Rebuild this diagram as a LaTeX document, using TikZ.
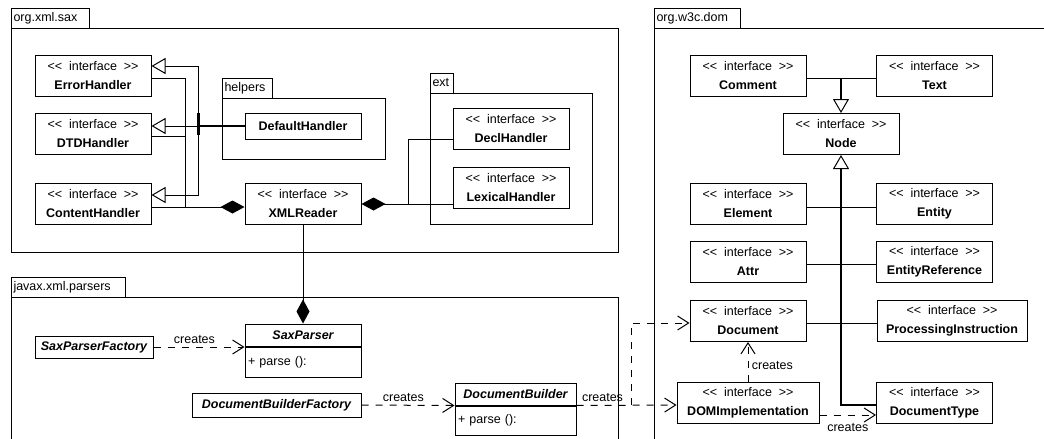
\documentclass[tikz,border=0pt]{standalone}
\usepackage{fontspec}
\setmainfont{Liberation Sans}
\usetikzlibrary{arrows.meta}

\newcommand{\stereo}{<\kern0pt<\hspace{0.55em}interface\hspace{0.55em}>\kern0pt>}

\begin{document}
\begin{tikzpicture}[
    x = 1pt, y = -1pt,
    line width = 1pt,
    font = \fontsize{12.5}{19}\selectfont,
    box/.style = {draw,
      inner sep = 0pt, align = center},
    iface/.style = {box,
      minimum width = 116pt, minimum height = 41pt},
    factory/.style = {box,
      font = \fontsize{12.5}{15}\selectfont\bfseries\itshape},
    classtitle/.style = {box, minimum height = 22pt,
      font = \fontsize{12.5}{15}\selectfont\bfseries\itshape},
    classbody/.style = {box, anchor = north, minimum height = 30pt,
      align = left, inner xsep = 3pt},
    pkglabel/.style = {anchor = west, inner sep = 1pt},
    heavy/.style = {line width = 2pt},
    inherit/.style = {-{Triangle[open, length = 14pt, width = 16pt, line width = 1pt]}},
    compose/.style = {{Diamond[length = 24pt, width = 13pt]}-},
    creates/.style = {dash pattern = on 7pt off 7pt,
      -{Straight Barb[length = 11pt, width = 14pt, line width = 1pt]}},
    ]

    \useasboundingbox (0, 0) rectangle (1044, 439);
    \clip (0, 0) rectangle (1044, 439);

    % packages
    \draw (11, 8) rectangle (89, 28);
    \draw (11, 28) rectangle (618, 252);
    \node at (12, 18) [pkglabel, name = saxLabel] {org.xml.sax};

    \draw (222, 78) rectangle (272, 98);
    \draw (222, 98) rectangle (385, 159);
    \node at (223, 88) [pkglabel, name = helpersLabel] {helpers};

    \draw (430, 73) rectangle (453, 93);
    \draw (430, 93) rectangle (592, 224);
    \node at (431, 83) [pkglabel, name = extLabel] {ext};

    \draw (11, 277) rectangle (125, 297);
    \draw (11, 460) -- (11, 297) -- (618, 297) -- (618, 460);
    \node at (12, 287) [pkglabel, name = parsersLabel] {javax.xml.parsers};

    \draw (654, 8) rectangle (740, 28);
    \draw (654, 460) -- (654, 28) -- (1060, 28);
    \node at (655, 18) [pkglabel, name = domLabel] {org.w3c.dom};

    % org.xml.sax
    \node at (93, 75.5)
    [iface, name = ErrorHandler] {\stereo\\\textbf{ErrorHandler}};
    \node at (93, 134)
    [iface, name = DTDHandler] {\stereo\\\textbf{DTDHandler}};
    \node at (93, 203.5)
    [iface, name = ContentHandler] {\stereo\\\textbf{ContentHandler}};
    \node at (303, 203.5)
    [iface, name = XMLReader] {\stereo\\\textbf{XMLReader}};
    \node at (303, 126)
    [box, minimum width = 116pt, minimum height = 26pt, name = DefaultHandler]
    {\textbf{DefaultHandler}};
    \node at (511, 129)
    [iface, name = DeclHandler] {\stereo\\\textbf{DeclHandler}};
    \node at (511, 187.5)
    [iface, name = LexicalHandler] {\stereo\\\textbf{LexicalHandler}};

    % javax.xml.parsers
    \node at (94, 347)
    [factory, minimum width = 118pt, minimum height = 22pt, name = SaxParserFactory]
    {SaxParserFactory};
    \node at (303, 335)
    [classtitle, minimum width = 116pt, name = SaxParser] {SaxParser};
    \node at (SaxParser.south)
    [classbody, text width = 110pt, name = SaxParserOps] {+ parse ():};
    \node at (276.5, 405)
    [factory, minimum width = 169pt, minimum height = 24pt, name = DocumentBuilderFactory]
    {DocumentBuilderFactory};
    \node at (515.5, 394)
    [classtitle, minimum width = 121pt, name = DocumentBuilder] {DocumentBuilder};
    \node at (DocumentBuilder.south)
    [classbody, text width = 115pt, minimum height = 29pt, name = DocumentBuilderOps]
    {+ parse ():};

    % org.w3c.dom
    \node at (748, 75.5) [iface, name = Comment] {\stereo\\\textbf{Comment}};
    \node at (934.5, 75.5) [iface, name = Text] {\stereo\\\textbf{Text}};
    \node at (841, 134) [iface, name = Node] {\stereo\\\textbf{Node}};
    \node at (748, 203.5) [iface, name = Element] {\stereo\\\textbf{Element}};
    \node at (934.5, 203.5) [iface, name = Entity] {\stereo\\\textbf{Entity}};
    \node at (748, 262) [iface, name = Attr] {\stereo\\\textbf{Attr}};
    \node at (934.5, 262)
    [iface, name = EntityReference] {\stereo\\\textbf{EntityReference}};
    \node at (748, 321) [iface, name = Document] {\stereo\\\textbf{Document}};
    \node at (952, 321)
    [iface, minimum width = 150pt, name = ProcessingInstruction]
    {\stereo\\\textbf{ProcessingInstruction}};
    \node at (748, 403)
    [iface, minimum width = 142pt, name = DOMImplementation]
    {\stereo\\\textbf{DOMImplementation}};
    \node at (934.5, 403)
    [iface, name = DocumentType] {\stereo\\\textbf{DocumentType}};

    % handlers
    \coordinate (inhJoint) at (198, 126);
    \coordinate (compJoint) at (185, 207);
    \coordinate (extJoint) at (408, 204);

    \draw [heavy] (DefaultHandler.west) -- (inhJoint);
    \draw [inherit] (inhJoint) |- ([yshift = 9.5pt] ErrorHandler.east);
    \draw [inherit] (inhJoint) -- (DTDHandler.east |- inhJoint);
    \draw [inherit] (inhJoint) |- ([yshift = 8.5pt] ContentHandler.east);
    \draw [line width = 3pt] ([yshift = 13pt] inhJoint) -- ([yshift = -9pt] inhJoint);

    \draw [compose] ([yshift = -3.5pt] XMLReader.west) -- (ContentHandler.east |- compJoint);
    \draw ([yshift = -2.5pt] ErrorHandler.east) -| (compJoint);
    \draw ([yshift = -2pt] DTDHandler.east) -| (compJoint);

    \draw [compose] (XMLReader.east |- extJoint) -- (LexicalHandler.west |- extJoint);
    \draw (extJoint) |- ([yshift = -10pt] DeclHandler.west);

    \draw [compose] (SaxParser.north) -- (XMLReader.south);

    % creates
    \draw [creates] (SaxParserFactory.east) to node [above, pos = 0.45] {creates}
    (SaxParser.south west |- SaxParserFactory.east);
    \draw [creates] (DocumentBuilderFactory.east) to node [above, pos = 0.45] {creates}
    (DocumentBuilder.south west);

    \coordinate (buildJoint) at (631, 405);
    \draw [creates] (DocumentBuilder.south east) to node [above, pos = 0.26] {creates}
    (DOMImplementation.west |- buildJoint);
    \draw [creates] (buildJoint) |- ([yshift = -2pt] Document.west);

    \draw [creates] (DOMImplementation.north) to node [right, pos = 0.4] {creates}
    (Document.south);
    \draw [creates] ([yshift = -12pt] DOMImplementation.east) to node [below = 5pt] {creates}
    ([yshift = -12pt] DocumentType.west);

    % dom
    \coordinate (domTop) at (841, 78);
    \draw ([yshift = -2.5pt] Comment.east) -- ([yshift = -2.5pt] Text.west);
    \draw [inherit, heavy] (domTop) -- (Node.north);
    \draw [inherit, heavy] ([yshift = -2pt] DocumentType.west) -| (Node.south);
    \draw ([yshift = -3.5pt] Element.east) -- ([yshift = -3.5pt] Entity.west);
    \draw ([yshift = -2pt] Attr.east) -- ([yshift = -2pt] EntityReference.west);
    \draw ([yshift = -2pt] Document.east) -- ([yshift = -2pt] ProcessingInstruction.west);
  \end{tikzpicture}
\end{document}
